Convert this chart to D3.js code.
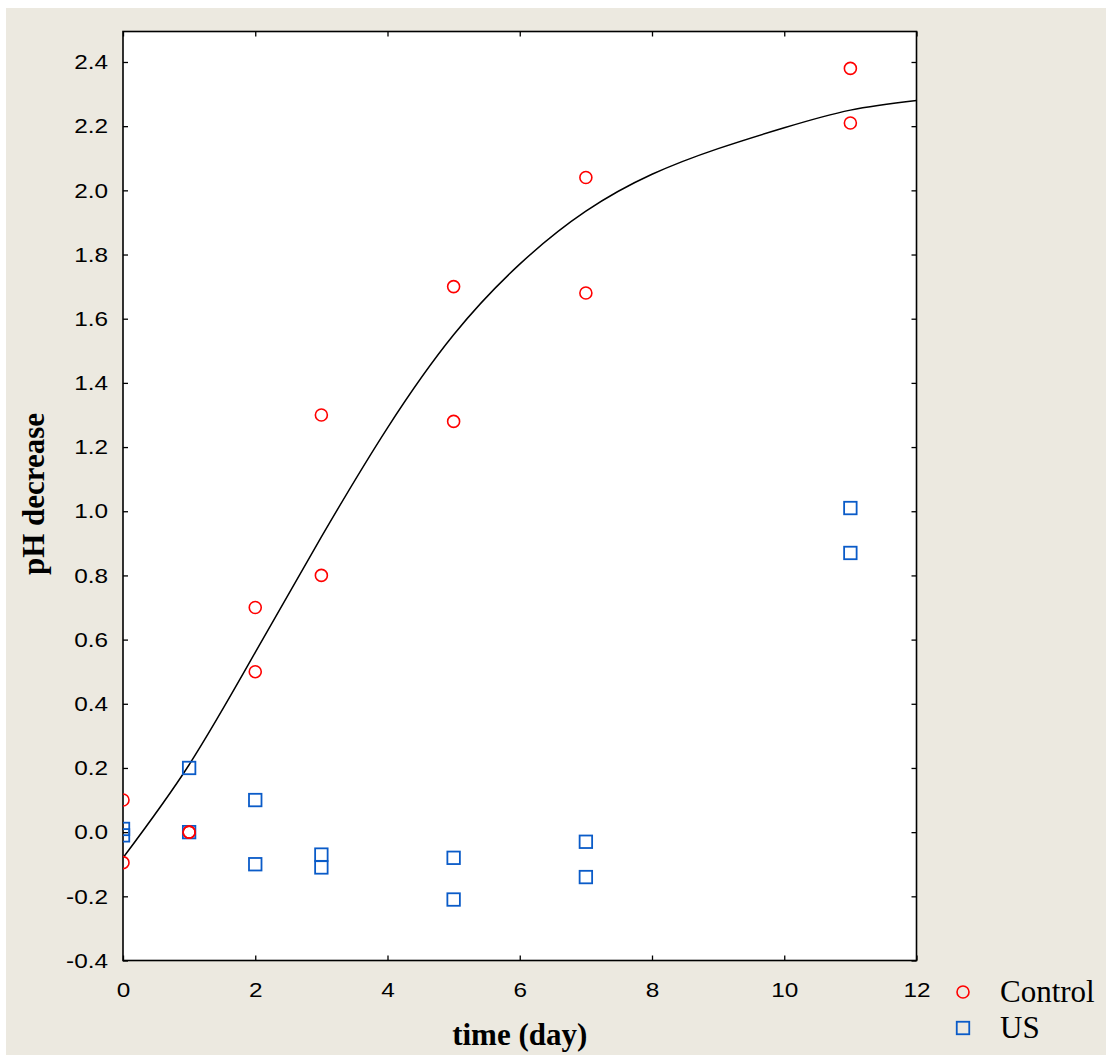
<!DOCTYPE html>
<html>
<head>
<meta charset="utf-8">
<script src="https://cdn.jsdelivr.net/npm/d3@7"></script>
<style>
  html, body { margin: 0; padding: 0; background: #ffffff; }
  svg { display: block; }
</style>
</head>
<body>
<script>
// Sampling days and the two replicate readings per group
const days = [0, 1, 2, 3, 5, 7, 11];
const controlRep1 = [0.10, 0.00, 0.70, 1.30, 1.70, 2.04, 2.38];
const controlRep2 = [-0.095, 0.00, 0.50, 0.80, 1.28, 1.68, 2.21];
const usRep1 = [0.01, 0.20, 0.10, -0.07, -0.08, -0.03, 1.01];
const usRep2 = [-0.01, 0.00, -0.10, -0.11, -0.21, -0.14, 0.87];

// Fitted growth curve for the Control group, sampled once per day
const fitDays = [0, 1, 2, 3, 4, 5, 6, 7, 8, 9, 10, 11, 12];
const fitValues = [-0.08, 0.21, 0.56, 0.92, 1.26, 1.55, 1.77, 1.935, 2.05, 2.13, 2.195, 2.25, 2.28];

const xTicks = [0, 2, 4, 6, 8, 10, 12];
const yTicks = [-0.4, -0.2, 0.0, 0.2, 0.4, 0.6, 0.8, 1.0, 1.2, 1.4, 1.6, 1.8, 2.0, 2.2, 2.4];
const legendLabels = ["Control", "US"];

const W = 1106, H = 1055;
const plot = { left: 123, top: 31.5, right: 916.5, bottom: 960.5 };

const svg = d3.select("body").append("svg").attr("width", W).attr("height", H);

// panel background
svg.append("rect").attr("x", 6).attr("y", 8).attr("width", W - 6).attr("height", H - 8)
  .attr("fill", "#ECE9E0");

const x = d3.scaleLinear().domain([0, 12]).range([plot.left, plot.right]);
const y = d3.scaleLinear().domain([-0.4, 2.495]).range([plot.bottom, plot.top]);

svg.append("rect").attr("x", plot.left).attr("y", plot.top)
  .attr("width", plot.right - plot.left).attr("height", plot.bottom - plot.top)
  .attr("fill", "#ffffff");

svg.append("clipPath").attr("id", "plotClip").append("rect")
  .attr("x", plot.left).attr("y", plot.top)
  .attr("width", plot.right - plot.left).attr("height", plot.bottom - plot.top);

const tickFont = "'Liberation Sans', Arial, sans-serif";
const serif = "'Liberation Serif', 'Times New Roman', serif";
const tickLen = 5;
const stretch = 1.16; // tick labels are drawn slightly wide

const fmtY = d => d3.format(".1f")(d).replace("\u2212", "-");

// axes with inward ticks on all four sides
const axisStyle = g => {
  g.select(".domain").remove();
  g.selectAll(".tick line").attr("stroke", "#000").attr("stroke-width", 1.3);
  g.selectAll(".tick text").attr("fill", "#000")
    .style("font-family", tickFont).style("font-size", "21px");
};

svg.append("g").attr("transform", `translate(0,${plot.bottom})`)
  .call(d3.axisBottom(x).tickValues(xTicks).tickFormat(d3.format("d")).tickSize(-tickLen).tickPadding(22))
  .call(axisStyle)
  .call(g => g.selectAll(".tick text").attr("transform", `scale(${stretch},1)`));
svg.append("g").attr("transform", `translate(0,${plot.top})`)
  .call(d3.axisTop(x).tickValues(xTicks).tickFormat("").tickSize(-tickLen))
  .call(axisStyle);
svg.append("g").attr("transform", `translate(${plot.left},0)`)
  .call(d3.axisLeft(y).tickValues(yTicks).tickFormat(fmtY).tickSize(-tickLen).tickPadding(15))
  .call(axisStyle)
  .call(g => g.selectAll(".tick text")
    .attr("x", -15 / stretch)
    .attr("transform", `scale(${stretch},1)`));
svg.append("g").attr("transform", `translate(${plot.right},0)`)
  .call(d3.axisRight(y).tickValues(yTicks).tickFormat("").tickSize(-tickLen))
  .call(axisStyle);

// frame
svg.append("rect").attr("x", plot.left).attr("y", plot.top)
  .attr("width", plot.right - plot.left).attr("height", plot.bottom - plot.top)
  .attr("fill", "none").attr("stroke", "#000").attr("stroke-width", 1.6);

const inner = svg.append("g").attr("clip-path", "url(#plotClip)");

// fitted curve
const fit = fitDays.map((d, i) => [d, fitValues[i]]);
inner.append("path").datum(fit)
  .attr("fill", "none").attr("stroke", "#000").attr("stroke-width", 1.5)
  .attr("d", d3.line().x(d => x(d[0])).y(d => y(d[1])).curve(d3.curveNatural));

const red = "#FF0000", blue = "#0A5BC8";
const sq = 12.5;

const usPts = days.flatMap((d, i) => [[d, usRep1[i]], [d, usRep2[i]]]);
inner.selectAll("rect.us").data(usPts).join("rect").attr("class", "us")
  .attr("x", d => x(d[0]) - sq / 2).attr("y", d => y(d[1]) - sq / 2)
  .attr("width", sq).attr("height", sq)
  .attr("fill", "none").attr("stroke", blue).attr("stroke-width", 1.8);

const ctlPts = days.flatMap((d, i) => [[d, controlRep1[i]], [d, controlRep2[i]]]);
inner.selectAll("circle.ctl").data(ctlPts).join("circle").attr("class", "ctl")
  .attr("cx", d => x(d[0])).attr("cy", d => y(d[1])).attr("r", 6)
  .attr("fill", "none").attr("stroke", red).attr("stroke-width", 1.6);

// axis titles
svg.append("text").attr("x", (plot.left + plot.right) / 2).attr("y", 1045)
  .attr("text-anchor", "middle").style("font-family", serif).style("font-weight", "bold")
  .style("font-size", "31px").text("time (day)");
svg.append("text").attr("transform", `translate(44,${(plot.top + plot.bottom) / 2 - 2}) rotate(-90)`)
  .attr("text-anchor", "middle").style("font-family", serif).style("font-weight", "bold")
  .style("font-size", "31px").text("pH decrease");

// legend
const lg = svg.append("g");
lg.append("circle").attr("cx", 963).attr("cy", 992).attr("r", 6)
  .attr("fill", "none").attr("stroke", red).attr("stroke-width", 1.6);
lg.append("rect").attr("x", 963 - sq / 2).attr("y", 1028 - sq / 2).attr("width", sq).attr("height", sq)
  .attr("fill", "none").attr("stroke", blue).attr("stroke-width", 1.8);
lg.selectAll("text").data(legendLabels).join("text")
  .attr("x", 1000).attr("y", (d, i) => 1002 + i * 36)
  .style("font-family", serif).style("font-size", "31px").text(d => d);
</script>
</body>
</html>
